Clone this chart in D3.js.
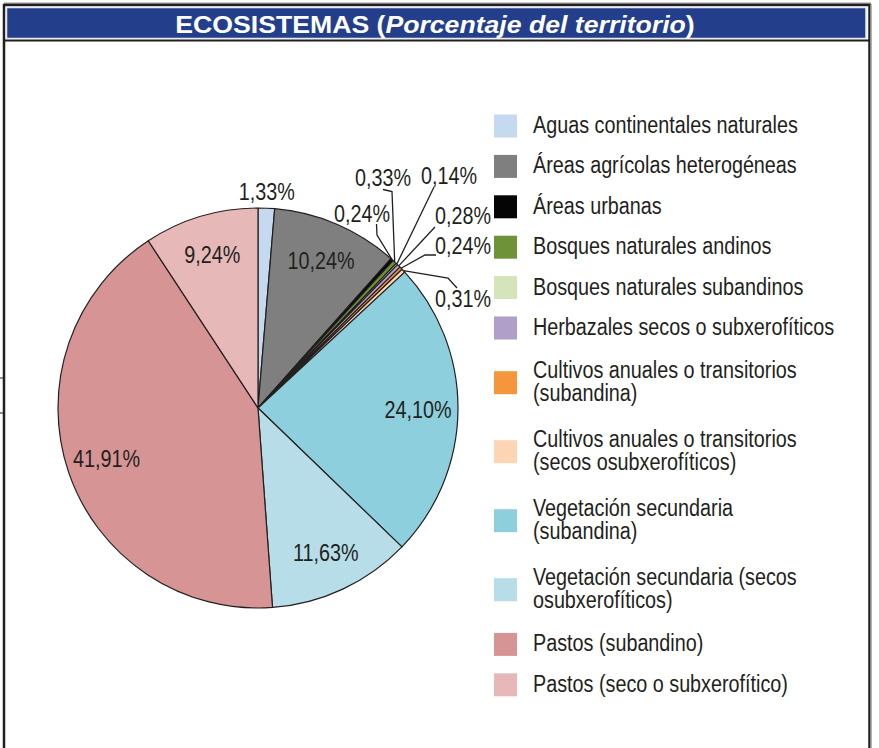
<!DOCTYPE html>
<html>
<head>
<meta charset="utf-8">
<script src="https://cdn.jsdelivr.net/npm/d3@7"></script>
<style>
body { margin:0; background:#fff; }
text { font-family:"Liberation Sans",Arial,sans-serif; fill:#231f20; }
</style>
</head>
<body>
<script>
var categories = ["Aguas continentales naturales","Áreas agrícolas heterogéneas","Áreas urbanas",
    "Bosques naturales andinos","Bosques naturales subandinos","Herbazales secos o subxerofíticos",
    "Cultivos anuales o transitorios (subandina)","Cultivos anuales o transitorios (secos osubxerofíticos)",
    "Vegetación secundaria (subandina)","Vegetación secundaria (secos osubxerofíticos)",
    "Pastos (subandino)","Pastos (seco o subxerofítico)"];
var values = [1.33, 10.24, 0.24, 0.33, 0.14, 0.28, 0.24, 0.31, 24.10, 11.63, 41.91, 9.24];
var valueLabels = ["1,33%","10,24%","0,24%","0,33%","0,14%","0,28%","0,24%","0,31%","24,10%","11,63%","41,91%","9,24%"];
var legendLines = [["Aguas continentales naturales"],["Áreas agrícolas heterogéneas"],["Áreas urbanas"],
    ["Bosques naturales andinos"],["Bosques naturales subandinos"],["Herbazales secos o subxerofíticos"],
    ["Cultivos anuales o transitorios","(subandina)"],["Cultivos anuales o transitorios","(secos osubxerofíticos)"],
    ["Vegetación secundaria","(subandina)"],["Vegetación secundaria (secos","osubxerofíticos)"],
    ["Pastos (subandino)"],["Pastos (seco o subxerofítico)"]];
var colors = ["#c5d9ef","#7f7f7f","#050505","#6e9237","#d6e4bc","#b09fc8",
              "#f6963c","#fcd5b4","#8ecfdd","#b6dde8","#d69495","#e6b9b8"];

var width = 879, height = 748;
var cx = 258, cy = 408, radius = 200;
var narrow = 0.86;   // the original uses a condensed face

var svg = d3.select("body").append("svg").attr("width", width).attr("height", height);

function addText(parent, x, y, str, anchor, size) {
    return parent.append("text")
        .attr("transform","translate("+x+","+y+") scale("+narrow+",1)")
        .attr("text-anchor", anchor || "middle")
        .style("font-size", (size || 23) + "px")
        .text(str);
}

// frame + title bar
svg.append("line").attr("x1",4).attr("y1",3.5).attr("x2",871).attr("y2",3.5).attr("stroke","#9a9a9a").attr("stroke-width",2);
svg.append("rect").attr("x",4).attr("y",5).attr("width",865.5).attr("height",800).attr("fill","none").attr("stroke","#231f20").attr("stroke-width",2.5);
svg.append("line").attr("x1",871).attr("y1",4).attr("x2",871).attr("y2",748).attr("stroke","#9a9a9a").attr("stroke-width",1.5);
svg.append("rect").attr("x",6.5).attr("y",7.5).attr("width",859.5).attr("height",31).attr("fill","#233e8b").attr("stroke","#e8ecf5").attr("stroke-width",1.5);
svg.append("line").attr("x1",4).attr("y1",40.5).attr("x2",870).attr("y2",40.5).attr("stroke","#231f20").attr("stroke-width",2);
svg.append("line").attr("x1",0).attr("y1",378).attr("x2",4).attr("y2",378).attr("stroke","#231f20");
svg.append("line").attr("x1",0).attr("y1",413).attr("x2",4).attr("y2",413).attr("stroke","#231f20");

var title = svg.append("text").attr("transform","translate(435,32.5) scale(1.11,1)").attr("text-anchor","middle")
    .style("font-size","24px").style("font-weight","bold").style("fill","#fff");
title.append("tspan").text("ECOSISTEMAS (");
title.append("tspan").style("font-style","italic").text("Porcentaje del territorio");
title.append("tspan").text(")");

// pie
var pie = d3.pie().sort(null).value(function(d){return d;});
var arcs = pie(values);
var arc = d3.arc().innerRadius(0).outerRadius(radius);
var labelArc = d3.arc().innerRadius(160).outerRadius(160);
var edgeArc = d3.arc().innerRadius(radius).outerRadius(radius);
var outerArc = d3.arc().innerRadius(radius + 8).outerRadius(radius + 8);

var g = svg.append("g").attr("transform","translate("+cx+","+cy+")");

g.selectAll("path.slice").data(arcs).enter().append("path")
    .attr("class","slice")
    .attr("d", arc)
    .attr("fill", function(d,i){return colors[i];})
    .attr("stroke","#231f20").attr("stroke-width",1.2).attr("stroke-linejoin","round");

// labels inside larger slices
var bigIdx = [1, 8, 9, 10, 11];
bigIdx.forEach(function(i){
    var c = labelArc.centroid(arcs[i]);
    addText(g, c[0], c[1] + 8, valueLabels[i]);
});

// small label just outside the first slice
var c0 = outerArc.centroid(arcs[0]);
addText(g, c0[0], c0[1], valueLabels[0]);

// callout placement for the thin slices (page coordinates): text baseline centre and leader bends
var callouts = {
    2: {tx:362, ty:222, bends:[[376.5,224],[377,235]]},
    3: {tx:383, ty:186, bends:[[383,189.5],[392,191.5]]},
    4: {tx:449, ty:184, bends:[[434,187]]},
    5: {tx:463, ty:224, bends:[[435,227]]},
    6: {tx:463, ty:254, bends:[[436,255],[425,255]]},
    7: {tx:463, ty:307, bends:[[457,288],[448,278]]}
};
var lineGen = d3.line();
Object.keys(callouts).forEach(function(k){
    var i = +k, c = callouts[k];
    var e = edgeArc.centroid(arcs[i]);
    var pts = c.bends.map(function(p){return [p[0]-cx, p[1]-cy];});
    pts.push(e);
    g.append("path").attr("d", lineGen(pts)).attr("fill","none").attr("stroke","#231f20").attr("stroke-width",1.3);
    addText(svg, c.tx, c.ty, valueLabels[i]);
});

// legend
var legend = svg.append("g").attr("transform","translate(494,0)");
var yTop = 105.8;
legendLines.forEach(function(lines, i){
    var h = lines.length > 1 ? 69 : 40.4;
    var yc = yTop + h/2;
    legend.append("rect").attr("x",0).attr("y",yc-11.5).attr("width",23).attr("height",23).attr("fill",colors[i]);
    lines.forEach(function(l, j){
        addText(legend, 39, yc + 7 - (lines.length-1)*11.5 + j*23, l, "start");
    });
    yTop += h;
});
</script>
</body>
</html>
